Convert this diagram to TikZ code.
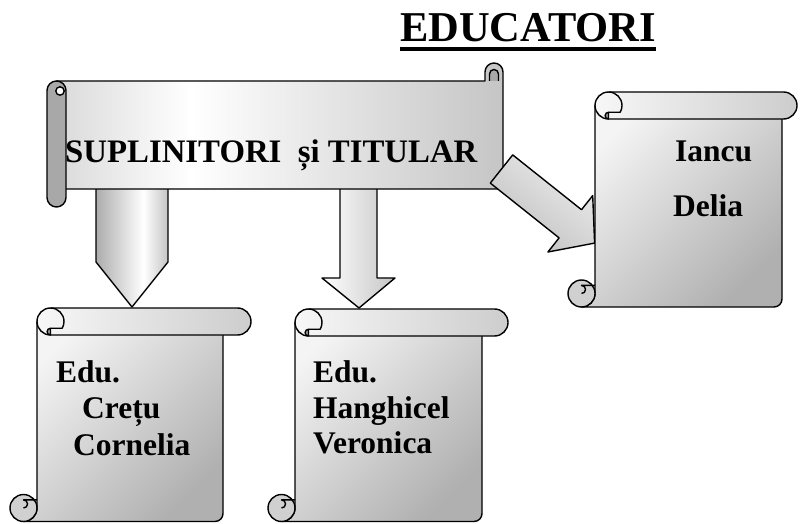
\documentclass[tikz,border=0pt]{standalone}
\usepackage{fontspec}
\setmainfont{Liberation Serif}

% 颜色
\definecolor{bannergray}{HTML}{9C9C9C}
\definecolor{rollgray}{HTML}{A8A8A8}
\definecolor{pagelight}{HTML}{F4F4F4}
\definecolor{pagedark}{HTML}{B0B0B0}
\definecolor{bandlight}{HTML}{F7F7F7}
\definecolor{banddark}{HTML}{CDCDCD}
\definecolor{curlgray}{HTML}{D0D0D0}
\definecolor{curldark}{HTML}{A0A0A0}
\definecolor{arrowdark}{HTML}{6E6E6E}

% 渐变
\pgfdeclarehorizontalshading{bannershade}{100bp}{color(0bp)=(bannergray); color(40bp)=(white); color(100bp)=(bannergray)}
\pgfdeclarehorizontalshading{pointershade}{100bp}{color(0bp)=(arrowdark); color(58bp)=(white); color(100bp)=(arrowdark)}

\begin{document}
\begin{tikzpicture}[x=1pt, y=1pt,
	outline/.style={draw=black, line width=1.4pt, line join=round},
	pagefill/.style={top color=pagelight, bottom color=pagedark, shading angle=45},
	titletext/.style={font=\fontsize{42.5}{50}\selectfont\bfseries, inner sep=0pt, anchor=base west},
	bannertext/.style={font=\fontsize{32.8}{40}\selectfont\bfseries, inner sep=0pt, anchor=base west},
	scrolltext/.style={font=\fontsize{31.5}{37}\selectfont\bfseries, inner sep=0pt, anchor=base west}]
	
	\useasboundingbox (0,0) rectangle (801,523); % 画布大小
	
	% 卷轴的参数
	\def\sr{13.5} % 卷边半径
	% #1 左边 x, #2 顶边 y, #3 纸面右边 x, #4 横卷右端 x, #5 底边 y
	\def\vscroll#1#2#3#4#5{%
		\shade[pagefill, outline] (#1,#2-\sr) -- (#1,#5+\sr) arc[start angle=0, end angle=-90, radius=\sr] -- (#3-8,#5) arc[start angle=-90, end angle=0, radius=8] -- (#3,#2-\sr) -- cycle; % 纸面
		\draw[outline, fill=curlgray] (#1-\sr,#5+\sr) circle (\sr); % 底部卷角
		\draw[outline] (#1-\sr,#5+\sr) arc[start angle=-90, end angle=90, radius=0.3*\sr] -- (#1,#5+1.6*\sr);
		\shade[outline, left color=bandlight, right color=banddark] (#1+\sr,#2) -- (#4-\sr,#2) arc[start angle=90, end angle=-90, radius=\sr] -- (#1+\sr,#2-2*\sr) arc[start angle=270, end angle=90, radius=\sr] -- cycle; % 顶部横卷
		\draw[outline] (#1+\sr,#2) arc[start angle=90, end angle=-30, radius=\sr] -- (#1+\sr,#2-1.5*\sr);
		\draw[outline, fill=curldark] (#1+\sr,#2-1.5*\sr) arc[start angle=90, end angle=270, radius=0.25*\sr] -- cycle;
	}
	
	% 标题
	\node[titletext] (title) at (400,481) {EDUCATORI};
	\draw[line width=4.5pt] ([yshift=-7pt]title.base west) -- ([yshift=-7pt]title.base east); % 下划线
	
	% 左边的五边形箭头
	\coordinate (A1) at (96,340);
	\coordinate (A2) at (96,261);
	\coordinate (A3) at (132,216); % 尖端
	\coordinate (A4) at (168,261);
	\coordinate (A5) at (168,340);
	\shade[outline, shading=pointershade] (A1) -- (A2) -- (A3) -- (A4) -- (A5) -- cycle;
	
	% 中间的箭头
	\coordinate (B1) at (340,340);
	\coordinate (B2) at (340,245);
	\coordinate (B3) at (322,245);
	\coordinate (B4) at (359,215); % 尖端
	\coordinate (B5) at (395,245);
	\coordinate (B6) at (377,245);
	\coordinate (B7) at (377,340);
	\shade[outline, left color=white, right color=gray!45] (B1) -- (B2) -- (B3) -- (B4) -- (B5) -- (B6) -- (B7) -- cycle;
	
	% 横幅
	\shade[outline, shading=bannershade] (56.5,442) -- (485,442) -- (485,451) arc[start angle=180, end angle=0, radius=9] -- (503,334) -- (56.5,334) -- cycle; % 主体
	\draw[outline, fill=rollgray] (489.5,442) -- (489.5,449) arc[start angle=180, end angle=0, radius=4.5] -- (498.5,442); % 右上卷角
	\draw[outline, fill=rollgray, rounded corners=9.5pt] (47,316) rectangle (66,442); % 左边卷轴
	\draw[outline, fill=white] (60,432) circle (4.2);
	\node[bannertext] (banner) at (65,360) {SUPLINITORI\ \ și TITULAR};
	
	% 斜向箭头
	\coordinate (C1) at (490.3,339.9);
	\coordinate (C2) at (512.7,368.1);
	\coordinate (C3) at (581.5,313.3);
	\coordinate (C4) at (592.7,327.4);
	\coordinate (C5) at (594.6,279.9); % 尖端
	\coordinate (C6) at (547.9,271.0);
	\coordinate (C7) at (559.1,285.1);
	\shade[outline, top color=gray!15, middle color=white, bottom color=gray!50, shading angle=-38.5] (C1) -- (C2) -- (C3) -- (C4) -- (C5) -- (C6) -- (C7) -- cycle;
	
	% 三个卷轴
	\vscroll{37}{215}{223}{251}{1.5}
	\vscroll{295}{214}{482}{508}{1.5}
	\vscroll{595}{431}{782}{797}{216}
	
	% 卷轴上的文字
	\node[scrolltext] (cretu1) at (56,141) {Edu.};
	\node[scrolltext] (cretu2) at (82,105) {Crețu};
	\node[scrolltext] (cretu3) at (73,68) {Cornelia};
	
	\node[scrolltext] (hanghicel1) at (313,141) {Edu.};
	\node[scrolltext] (hanghicel2) at (313,105) {Hanghicel};
	\node[scrolltext] (hanghicel3) at (313,70) {Veronica};
	
	\node[scrolltext] (iancu1) at (675,361) {Iancu};
	\node[scrolltext] (iancu2) at (673,306) {Delia};
	
\end{tikzpicture}
\end{document}
